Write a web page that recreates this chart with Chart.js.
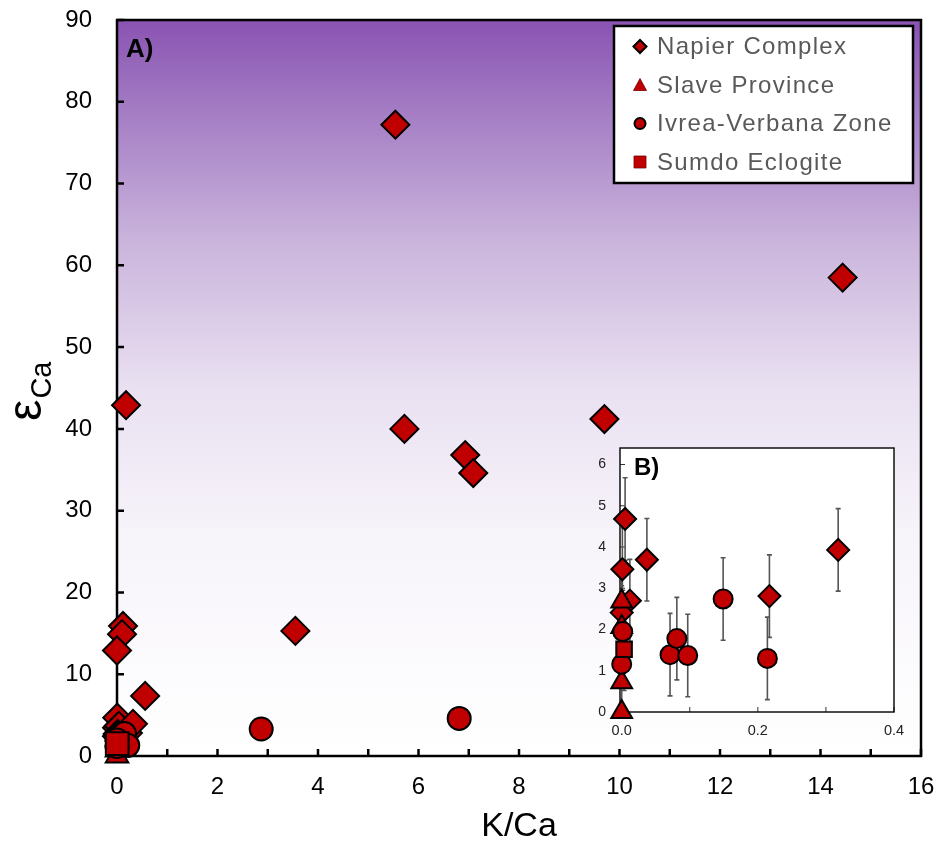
<!DOCTYPE html>
<html>
<head>
<meta charset="utf-8">
<script src="https://cdn.jsdelivr.net/npm/chart.js@4.4.1/dist/chart.umd.min.js"></script>
<style>
  html, body { margin: 0; padding: 0; background: #fff; }
  #wrap { position: relative; width: 942px; height: 846px; }
  #main { position: absolute; left: 0; top: 0; }
  #inset { position: absolute; left: 585px; top: 440px; }
</style>
</head>
<body>
<div id="wrap">
  <canvas id="main" width="942" height="846"></canvas>
  <canvas id="inset" width="330" height="300"></canvas>
</div>
<script>
// K/Ca vs epsilon-Ca
const seriesNames = ['Napier Complex', 'Slave Province', 'Ivrea-Verbana Zone', 'Sumdo Eclogite'];

const napierK = [5.54, 14.44, 0.18, 5.72, 6.93, 7.09, 9.70, 3.55, 0.56, 0.12, 0.10, 0.00, 0.005, 0.001, 0.037, 0.012, 0.000, 0.217, 0.318];
const napierE = [77.2, 58.5, 42.9, 40.0, 36.8, 34.6, 41.2, 15.3, 7.35, 15.9, 14.9, 12.9, 4.68, 3.46, 3.69, 2.70, 2.41, 2.81, 3.93];

const slaveK = [0.000, 0.000, 0.000, 0.000];
const slaveE = [0.00, 0.72, 2.06, 2.68];

const ivreaK = [2.87, 6.81, 0.071, 0.081, 0.097, 0.149, 0.214, 0.0015, 0.000];
const ivreaE = [3.3, 4.6, 1.39, 1.78, 1.37, 2.74, 1.30, 1.95, 1.16];

const sumdoK = [0.0035];
const sumdoE = [1.52];

const epsErr = 1.0; // +/- error bars shown in the inset

const mainXTicks = [0, 1, 2, 3, 4, 5, 6, 7, 8, 9, 10, 11, 12, 13, 14, 15, 16];
const mainYTicks = [0, 10, 20, 30, 40, 50, 60, 70, 80, 90];
const insetXTicks = [0, 0.1, 0.2, 0.3, 0.4];
const insetYTicks = [0, 1, 2, 3, 4, 5, 6];

const RED = '#c00000';
Chart.defaults.font.family = "'Liberation Sans', Arial, sans-serif";

const pts = (xs, ys) => xs.map((x, i) => ({ x: x, y: ys[i] }));
const seriesData = [pts(napierK, napierE), pts(slaveK, slaveE), pts(ivreaK, ivreaE), pts(sumdoK, sumdoE)];
const styles = ['rectRot', 'triangle', 'circle', 'rect'];

function makeDatasets(radii, bw, clip) {
    return seriesData.map((d, i) => ({
        label: seriesNames[i],
        data: d,
        pointStyle: styles[i],
        pointRadius: radii[i],
        backgroundColor: RED,
        borderColor: '#000',
        borderWidth: bw,
        showLine: false,
        order: 3 - i,
        clip: clip
    }));
}

function tickMarks(ctx, chart, len, lw, color) {
    const a = chart.chartArea;
    const xs = chart.scales.x, ys = chart.scales.y;
    ctx.save();
    ctx.strokeStyle = color;
    ctx.lineWidth = lw;
    ctx.beginPath();
    xs.ticks.forEach(t => {
        const px = xs.getPixelForValue(t.value);
        ctx.moveTo(px, a.bottom);
        ctx.lineTo(px, a.bottom - len);
    });
    ys.ticks.forEach(t => {
        const py = ys.getPixelForValue(t.value);
        ctx.moveTo(a.left, py);
        ctx.lineTo(a.left + len, py);
    });
    ctx.stroke();
    ctx.restore();
}

function legendMarker(ctx, style, x, y) {
    ctx.save();
    ctx.fillStyle = RED;
    ctx.strokeStyle = '#000';
    ctx.beginPath();
    if (style === 'rectRot') {
        ctx.lineWidth = 2;
        ctx.moveTo(x - 6.5, y); ctx.lineTo(x, y - 6.5); ctx.lineTo(x + 6.5, y); ctx.lineTo(x, y + 6.5);
        ctx.closePath(); ctx.fill(); ctx.stroke();
    } else if (style === 'triangle') {
        ctx.moveTo(x, y - 6.5); ctx.lineTo(x + 6.5, y + 5.5); ctx.lineTo(x - 6.5, y + 5.5);
        ctx.closePath(); ctx.fill();
        ctx.lineWidth = 0.8; ctx.strokeStyle = '#700'; ctx.stroke();
    } else if (style === 'circle') {
        ctx.lineWidth = 2;
        ctx.arc(x, y, 5.5, 0, Math.PI * 2);
        ctx.fill(); ctx.stroke();
    } else {
        ctx.rect(x - 6, y - 6, 12, 12);
        ctx.fill();
        ctx.lineWidth = 0.8; ctx.strokeStyle = '#700'; ctx.stroke();
    }
    ctx.restore();
}

const mainDecor = {
    id: 'mainDecor',
    beforeDraw(chart) {
        const { ctx, chartArea: a } = chart;
        const g = ctx.createLinearGradient(0, a.top, 0, a.bottom);
        g.addColorStop(0, '#8953b2');
        g.addColorStop(0.12, '#a37bc3');
        g.addColorStop(0.3, '#cab4dc');
        g.addColorStop(0.5, '#e9e0f1');
        g.addColorStop(0.7, '#f7f4fa');
        g.addColorStop(1, '#ffffff');
        ctx.save();
        ctx.fillStyle = g;
        ctx.fillRect(a.left, a.top, a.right - a.left, a.bottom - a.top);
        ctx.restore();
    },
    beforeDatasetsDraw(chart) {
        const { ctx, chartArea: a } = chart;
        tickMarks(ctx, chart, 7, 2.5, '#000');
        ctx.save();
        ctx.strokeStyle = '#000';
        ctx.lineWidth = 2.5;
        ctx.strokeRect(a.left, a.top, a.right - a.left, a.bottom - a.top);
        ctx.fillStyle = '#000';
        ctx.font = "bold 26px 'Liberation Sans', Arial, sans-serif";
        ctx.textBaseline = 'alphabetic';
        ctx.fillText('A)', a.left + 9, a.top + 37);

        // axis titles
        ctx.font = "34px 'Liberation Sans', Arial, sans-serif";
        ctx.textAlign = 'center';
        ctx.fillText('K/Ca', (a.left + a.right) / 2, 836);
        ctx.translate(41, 421);
        ctx.rotate(-Math.PI / 2);
        ctx.textAlign = 'left';
        ctx.font = "48px 'Liberation Sans', Arial, sans-serif";
        ctx.fillText('\u03b5', 0, 0);
        const w = ctx.measureText('\u03b5').width;
        ctx.font = "29px 'Liberation Sans', Arial, sans-serif";
        ctx.fillText('Ca', w + 1, 10);
        ctx.restore();
    },
    afterDatasetsDraw(chart) {
        const { ctx } = chart;
        ctx.save();
        ctx.fillStyle = '#fff';
        ctx.fillRect(614, 26, 299, 157);
        ctx.strokeStyle = '#000';
        ctx.lineWidth = 2.5;
        ctx.strokeRect(614, 26, 299, 157);
        ctx.font = "24px 'Liberation Sans', Arial, sans-serif";
        if ('letterSpacing' in ctx) ctx.letterSpacing = '1.3px';
        ctx.textBaseline = 'middle';
        seriesNames.forEach((name, i) => {
            const y = 46.5 + i * 38.5;
            legendMarker(ctx, styles[i], 640, y);
            ctx.fillStyle = '#595959';
            ctx.fillText(name, 657, y + 1);
        });
        ctx.restore();
    }
};

const insetDecor = {
    id: 'insetDecor',
    beforeDraw(chart) {
        const { ctx, chartArea: a } = chart;
        ctx.save();
        ctx.fillStyle = '#fff';
        ctx.fillRect(a.left, a.top, a.right - a.left, a.bottom - a.top);
        ctx.restore();
    },
    beforeDatasetsDraw(chart) {
        const { ctx, chartArea: a } = chart;
        const xs = chart.scales.x, ys = chart.scales.y;
        tickMarks(ctx, chart, 5, 1, '#333');
        ctx.save();
        ctx.strokeStyle = '#111';
        ctx.lineWidth = 1.5;
        ctx.strokeRect(a.left, a.top, a.right - a.left, a.bottom - a.top);
        ctx.beginPath();
        ctx.rect(a.left - 20, a.top, a.right - a.left + 20, a.bottom - a.top);
        ctx.clip();
        // error bars
        ctx.strokeStyle = '#555';
        ctx.lineWidth = 1.6;
        ctx.beginPath();
        seriesData.forEach(d => d.forEach(p => {
            if (p.x > xs.max || p.y > ys.max) return;
            const px = xs.getPixelForValue(p.x);
            const top = ys.getPixelForValue(p.y + epsErr);
            const bot = ys.getPixelForValue(p.y - epsErr);
            ctx.moveTo(px, top); ctx.lineTo(px, bot);
            ctx.moveTo(px - 2.5, top); ctx.lineTo(px + 2.5, top);
            ctx.moveTo(px - 2.5, bot); ctx.lineTo(px + 2.5, bot);
        }));
        ctx.stroke();
        ctx.restore();
        ctx.save();
        ctx.fillStyle = '#000';
        ctx.font = "bold 24px 'Liberation Sans', Arial, sans-serif";
        ctx.fillText('B)', a.left + 14, a.top + 27);
        ctx.restore();
    }
};

new Chart(document.getElementById('main'), {
    type: 'scatter',
    data: { datasets: makeDatasets([14, 13, 11.5, 16], 2, false) },
    options: {
        responsive: false,
        animation: false,
        events: [],
        layout: { autoPadding: false, padding: { top: 20, right: 21, left: 0, bottom: 0 } },
        plugins: { legend: { display: false }, tooltip: { enabled: false } },
        scales: {
            x: {
                type: 'linear', min: 0, max: 16,
                grid: { display: false, drawTicks: false },
                border: { display: false },
                afterBuildTicks: s => { s.ticks = mainXTicks.map(v => ({ value: v })); },
                afterFit: s => { s.height = 90; s.paddingLeft = 0; s.paddingRight = 0; },
                ticks: {
                    padding: 17, autoSkip: false, maxRotation: 0, color: '#000',
                    font: { size: 24 },
                    callback: v => (v % 2 === 0 ? String(v) : '')
                }
            },
            y: {
                type: 'linear', min: 0, max: 90,
                grid: { display: false, drawTicks: false },
                border: { display: false },
                afterBuildTicks: s => { s.ticks = mainYTicks.map(v => ({ value: v })); },
                afterFit: s => { s.width = 117; s.paddingTop = 0; s.paddingBottom = 0; },
                ticks: { padding: 25, autoSkip: false, color: '#000', font: { size: 24 } }
            }
        }
    },
    plugins: [mainDecor]
});

new Chart(document.getElementById('inset'), {
    type: 'scatter',
    data: { datasets: makeDatasets([11, 12, 9.5, 11], 2, { left: 16, bottom: 16, top: 0, right: 0 }) },
    options: {
        responsive: false,
        animation: false,
        events: [],
        layout: { autoPadding: false, padding: { top: 8, right: 21, left: 0, bottom: 0 } },
        plugins: { legend: { display: false }, tooltip: { enabled: false } },
        scales: {
            x: {
                type: 'linear', min: -0.0025, max: 0.4,
                grid: { display: false, drawTicks: false },
                border: { display: false },
                afterBuildTicks: s => { s.ticks = insetXTicks.map(v => ({ value: v })); },
                afterFit: s => { s.height = 28; s.paddingLeft = 0; s.paddingRight = 0; },
                ticks: {
                    padding: 10, autoSkip: false, maxRotation: 0, color: '#222',
                    font: { size: 14.5 },
                    callback: v => (Math.round(v * 10) % 2 === 0 ? v.toFixed(1) : '')
                }
            },
            y: {
                type: 'linear', min: 0, max: 6.4,
                grid: { display: false, drawTicks: false },
                border: { display: false },
                afterBuildTicks: s => { s.ticks = insetYTicks.map(v => ({ value: v })); },
                afterFit: s => { s.width = 35; s.paddingTop = 0; s.paddingBottom = 0; },
                ticks: { padding: 14, autoSkip: false, color: '#222', font: { size: 14 } }
            }
        }
    },
    plugins: [insetDecor]
});
</script>
</body>
</html>
